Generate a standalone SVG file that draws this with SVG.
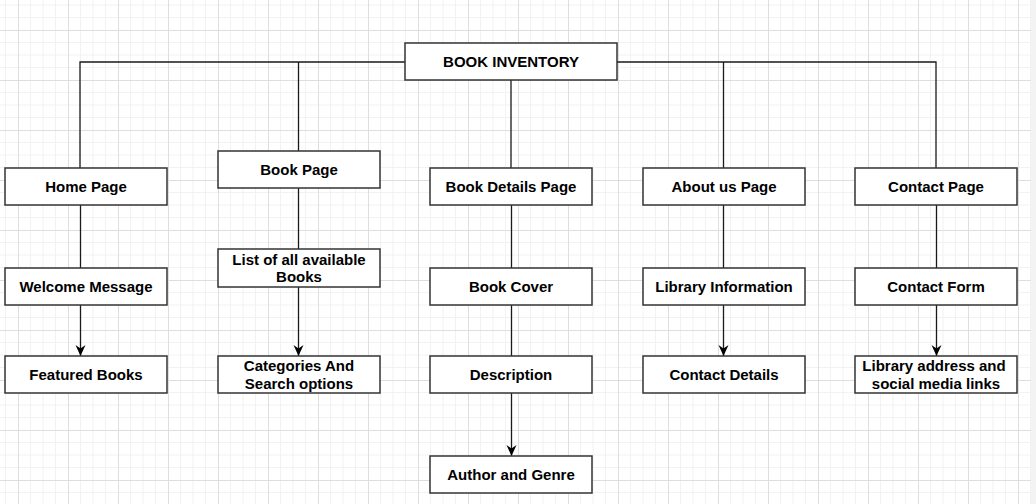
<svg xmlns="http://www.w3.org/2000/svg" width="1036" height="504" viewBox="0 0 1036 504">
  <style>
    .box { fill: #ffffff; stroke: #333333; stroke-width: 1.5; }
    .lbl { font-family: "Liberation Sans", Arial, sans-serif; font-weight: bold; font-size: 15px; fill: #000000; text-anchor: middle; }
    .edge { fill: none; stroke: #1a1a1a; stroke-width: 1.3; }
  </style>
  <defs>
    <pattern id="grid" patternUnits="userSpaceOnUse" x="18" y="30" width="50" height="50">
      <path d="M12.5 0V50M25 0V50M37.5 0V50M0 12.5H50M0 25H50M0 37.5H50" stroke="#f2f2f2" stroke-width="1" fill="none"/>
      <path d="M0.5 0V50M0 0.5H50" stroke="#dedede" stroke-width="1" fill="none"/>
    </pattern>
    <marker id="arrow" markerUnits="userSpaceOnUse" markerWidth="11" markerHeight="11" viewBox="0 0 11 11" refX="11" refY="5.5" orient="auto">
      <path d="M0 0.5L11 5.5L0 10.5L3.5 5.5Z" fill="#000000"/>
    </marker>
  </defs>
  <rect x="0" y="0" width="1036" height="504" fill="#ffffff"/>
  <rect x="0" y="0" width="1031" height="504" fill="url(#grid)"/>
  <rect x="1031" y="0" width="5" height="504" fill="#f3f3f3"/>

  <g id="connectors">
    <path class="edge" d="M405 62H80V168"/>
    <path class="edge" d="M298.5 62V151"/>
    <path class="edge" d="M511 80V168"/>
    <path class="edge" d="M617 62H936V168"/>
    <path class="edge" d="M723.5 62V168"/>
    <path class="edge" d="M80.5 205V268"/>
    <path class="edge" d="M80.5 305V356" marker-end="url(#arrow)"/>
    <path class="edge" d="M298.5 188V249"/>
    <path class="edge" d="M298.5 287V356" marker-end="url(#arrow)"/>
    <path class="edge" d="M511.5 205V268"/>
    <path class="edge" d="M511.5 305V356"/>
    <path class="edge" d="M511.5 393V456" marker-end="url(#arrow)"/>
    <path class="edge" d="M723.5 205V268"/>
    <path class="edge" d="M723.5 305V356" marker-end="url(#arrow)"/>
    <path class="edge" d="M936.5 205V268"/>
    <path class="edge" d="M936.5 305V356" marker-end="url(#arrow)"/>
  </g>

  <g id="book-inventory"><rect class="box" x="405" y="43" width="212" height="37"/><text class="lbl" x="511" y="67">BOOK INVENTORY</text></g>

  <g id="home-page"><rect class="box" x="5" y="168" width="162" height="37"/><text class="lbl" x="86" y="192">Home Page</text></g>
  <g id="book-page"><rect class="box" x="218" y="151" width="162" height="37"/><text class="lbl" x="299" y="175">Book Page</text></g>
  <g id="book-details-page"><rect class="box" x="430" y="168" width="162" height="37"/><text class="lbl" x="511" y="192">Book Details Page</text></g>
  <g id="about-us-page"><rect class="box" x="643" y="168" width="162" height="37"/><text class="lbl" x="724" y="192">About us Page</text></g>
  <g id="contact-page"><rect class="box" x="855" y="168" width="162" height="37"/><text class="lbl" x="936" y="192">Contact Page</text></g>

  <g id="welcome-message"><rect class="box" x="5" y="268" width="162" height="37"/><text class="lbl" x="86" y="292">Welcome Message</text></g>
  <g id="list-of-books"><rect class="box" x="218" y="249" width="162" height="38"/><text class="lbl" x="299" y="264.5">List of all available</text><text class="lbl" x="299" y="282">Books</text></g>
  <g id="book-cover"><rect class="box" x="430" y="268" width="162" height="37"/><text class="lbl" x="511" y="292">Book Cover</text></g>
  <g id="library-information"><rect class="box" x="643" y="268" width="162" height="37"/><text class="lbl" x="724" y="292">Library Information</text></g>
  <g id="contact-form"><rect class="box" x="855" y="268" width="162" height="37"/><text class="lbl" x="936" y="292">Contact Form</text></g>

  <g id="featured-books"><rect class="box" x="5" y="356" width="162" height="37"/><text class="lbl" x="86" y="380">Featured Books</text></g>
  <g id="categories-search"><rect class="box" x="218" y="356" width="162" height="37"/><text class="lbl" x="299" y="371">Categories And</text><text class="lbl" x="299" y="388.5">Search options</text></g>
  <g id="description"><rect class="box" x="430" y="356" width="162" height="37"/><text class="lbl" x="511" y="380">Description</text></g>
  <g id="contact-details"><rect class="box" x="643" y="356" width="162" height="37"/><text class="lbl" x="724" y="380">Contact Details</text></g>
  <g id="library-address"><rect class="box" x="855" y="356" width="162" height="37"/><text class="lbl" x="934" y="371">Library address and</text><text class="lbl" x="936" y="388.5">social media links</text></g>

  <g id="author-genre"><rect class="box" x="430" y="456" width="162" height="37"/><text class="lbl" x="511" y="480">Author and Genre</text></g>
</svg>
